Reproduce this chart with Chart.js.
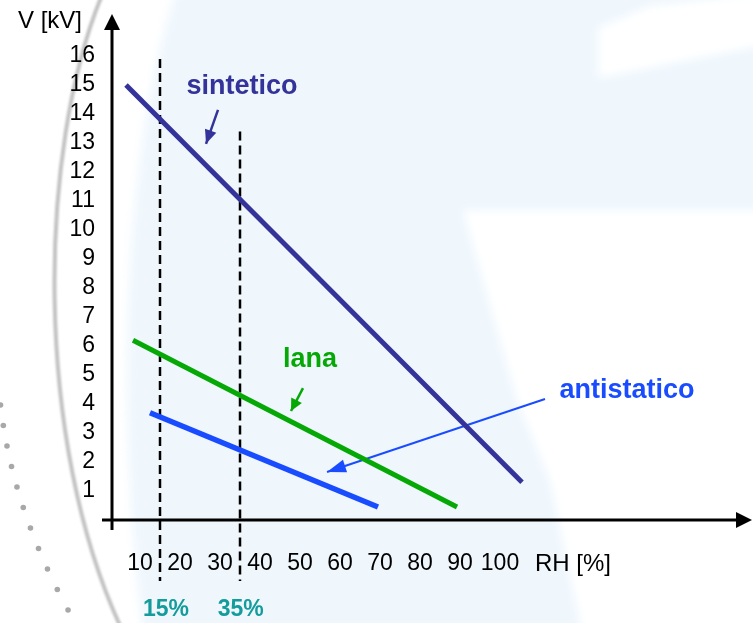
<!DOCTYPE html>
<html><head><meta charset="utf-8">
<script src="https://cdn.jsdelivr.net/npm/chart.js@4.4.1/dist/chart.umd.min.js"></script>
<style>html,body{margin:0;padding:0;background:#fff;}canvas{display:block;}</style>
</head><body>
<canvas id="c" width="753" height="623"></canvas>
<script>
// ---- data ----
const xTicks = [10, 20, 30, 40, 50, 60, 70, 80, 90, 100];
const yTicks = [1, 2, 3, 4, 5, 6, 7, 8, 9, 10, 11, 12, 13, 14, 15, 16];
const sinteticoRH = [6.5, 105.5];
const sinteticoV = [15.0, 1.3];
const lanaRH = [8.25, 89.25];
const lanaV = [6.2, 0.45];
const antistaticoRH = [12.5, 69.5];
const antistaticoV = [3.7, 0.45];
const guideRH = [15, 35];
const guideTopV = [15.9, 13.4];
const guideBottomV = -2.1;
const arrowSinteticoRH = [29.5, 26.5];
const arrowSinteticoV = [14.14, 12.97];
const arrowLanaRH = [50.75, 47.75];
const arrowLanaV = [4.55, 3.76];
const arrowAntiRH = [111.25, 56.75];
const arrowAntiV = [4.17, 1.655];

const NAVY = '#333399', GREEN = '#06a806', BLUE = '#1a4cff', TEAL = '#149c9c';
const FONT = '"Liberation Sans", Arial, Helvetica, sans-serif';

const pts = (xs, ys) => xs.map((x, i) => ({x: x, y: ys[i]}));

const labels = [
  {text: 'sintetico', rh: 35.5, v: 14.93, color: NAVY, size: 27},
  {text: 'lana', rh: 52.5, v: 5.52, color: GREEN, size: 27},
  {text: 'antistatico', rh: 131.75, v: 4.48, color: BLUE, size: 27},
  {text: '15%', rh: 16.5, v: -3.1, color: TEAL, size: 23},
  {text: '35%', rh: 35.2, v: -3.1, color: TEAL, size: 23}
];

const background = {
  id: 'background',
  beforeDraw(chart) {
    const ctx = chart.ctx, w = chart.width, h = chart.height;
    ctx.save();
    ctx.fillStyle = '#ffffff';
    ctx.fillRect(0, 0, w, h);
    ctx.filter = 'blur(5px)';
    ctx.fillStyle = '#eff7fd';
    ctx.beginPath();
    ctx.moveTo(180, -20);
    ctx.bezierCurveTo(120, 150, 115, 420, 145, 650);
    ctx.lineTo(790, 650); ctx.lineTo(790, -20); ctx.closePath();
    ctx.fill();
    ctx.fillStyle = '#ffffff';
    ctx.beginPath();
    ctx.moveTo(463, 210); ctx.lineTo(790, 210); ctx.lineTo(790, 660);
    ctx.lineTo(588, 660); ctx.lineTo(550, 480); ctx.lineTo(517, 400); ctx.closePath();
    ctx.fill();
    ctx.beginPath();
    ctx.moveTo(598, 28); ctx.lineTo(650, 6); ctx.lineTo(790, -10); ctx.lineTo(790, 40);
    ctx.lineTo(598, 78); ctx.closePath();
    ctx.fill();
    ctx.filter = 'blur(1px)';
    ctx.strokeStyle = '#c2c2c2';
    ctx.lineWidth = 4;
    ctx.beginPath();
    ctx.moveTo(102, -5);
    ctx.bezierCurveTo(38, 150, 33, 440, 122, 630);
    ctx.stroke();
    ctx.filter = 'none';
    ctx.fillStyle = '#a8a8a8';
    for (let y = 405; y <= 630; y += 20.5) {
      const d = y - 400;
      const x = 0.00105 * d * d + 0.1035 * d;
      ctx.beginPath(); ctx.arc(x, y, 2.8, 0, Math.PI * 2); ctx.fill();
    }
    ctx.restore();
  }
};

function arrowHead(ctx, from, to, len, half, color) {
  const a = Math.atan2(to.y - from.y, to.x - from.x);
  ctx.save();
  ctx.fillStyle = color;
  ctx.translate(to.x, to.y);
  ctx.rotate(a);
  ctx.beginPath();
  ctx.moveTo(0, 0); ctx.lineTo(-len, -half); ctx.lineTo(-len, half); ctx.closePath();
  ctx.fill();
  ctx.restore();
}

const decor = {
  id: 'decor',
  beforeDatasetsDraw(chart) {
    const ctx = chart.ctx, a = chart.chartArea;
    ctx.save();
    ctx.strokeStyle = '#000'; ctx.fillStyle = '#000';
    ctx.lineWidth = 3;
    ctx.beginPath();
    ctx.moveTo(a.left - 10, a.bottom); ctx.lineTo(a.right - 10, a.bottom);
    ctx.moveTo(a.left, a.bottom + 10); ctx.lineTo(a.left, a.top + 12);
    ctx.stroke();
    ctx.beginPath();
    ctx.moveTo(a.right + 2, a.bottom); ctx.lineTo(a.right - 14, a.bottom - 8); ctx.lineTo(a.right - 14, a.bottom + 8); ctx.closePath();
    ctx.fill();
    ctx.beginPath();
    ctx.moveTo(a.left, a.top); ctx.lineTo(a.left - 8, a.top + 16); ctx.lineTo(a.left + 8, a.top + 16); ctx.closePath();
    ctx.fill();
    ctx.font = '24px ' + FONT;
    ctx.textBaseline = 'middle';
    ctx.textAlign = 'left';
    ctx.fillText('V [kV]', 18, 21);
    const xs = chart.scales.x;
    ctx.fillText('RH [%]', xs.getPixelForValue(100) + 35, 564);
    ctx.restore();
  },
  afterDatasetsDraw(chart) {
    const ctx = chart.ctx, xs = chart.scales.x, ys = chart.scales.y;
    const heads = [[4, 14, 6, NAVY], [5, 12, 6, GREEN], [6, 19, 6.5, BLUE]];
    heads.forEach(([i, len, half, color]) => {
      const m = chart.getDatasetMeta(i).data;
      arrowHead(ctx, m[0], m[1], len, half, color);
    });
    ctx.save();
    ctx.textAlign = 'center';
    ctx.textBaseline = 'middle';
    labels.forEach(l => {
      ctx.font = 'bold ' + l.size + 'px ' + FONT;
      ctx.fillStyle = l.color;
      ctx.fillText(l.text, xs.getPixelForValue(l.rh), ys.getPixelForValue(l.v));
    });
    ctx.restore();
  }
};

new Chart(document.getElementById('c'), {
  type: 'line',
  data: {
    datasets: [
      {label: 'sintetico', data: pts(sinteticoRH, sinteticoV), borderColor: NAVY, borderWidth: 5},
      {label: 'lana', data: pts(lanaRH, lanaV), borderColor: GREEN, borderWidth: 5},
      {label: 'antistatico', data: pts(antistaticoRH, antistaticoV), borderColor: BLUE, borderWidth: 5.5},
      {label: '15%', data: [{x: guideRH[0], y: guideTopV[0]}, {x: guideRH[0], y: guideBottomV}], borderColor: '#000', borderWidth: 2.5, borderDash: [9, 5]},
      {label: 'arrow sintetico', data: pts(arrowSinteticoRH, arrowSinteticoV), borderColor: NAVY, borderWidth: 2.5},
      {label: 'arrow lana', data: pts(arrowLanaRH, arrowLanaV), borderColor: GREEN, borderWidth: 2.5},
      {label: 'arrow antistatico', data: pts(arrowAntiRH, arrowAntiV), borderColor: BLUE, borderWidth: 2},
      {label: '35%', data: [{x: guideRH[1], y: guideTopV[1]}, {x: guideRH[1], y: guideBottomV}], borderColor: '#000', borderWidth: 2.5, borderDash: [9, 5]}
    ].map(d => Object.assign({pointRadius: 0, borderCapStyle: 'butt', fill: false, tension: 0, clip: false}, d))
  },
  options: {
    responsive: false,
    animation: false,
    events: [],
    layout: {padding: {left: 0, top: 14, right: 3, bottom: 0}},
    plugins: {legend: {display: false}, tooltip: {enabled: false}, title: {display: false}},
    scales: {
      x: {
        type: 'linear', min: 3, max: 162.5,
        grid: {display: false, drawTicks: false}, border: {display: false},
        afterBuildTicks: s => { s.ticks = xTicks.map(v => ({value: v})); },
        afterFit: s => { s.height = 103; s.paddingLeft = 0; s.paddingRight = 0; },
        ticks: {autoSkip: false, maxRotation: 0, color: '#000', padding: 30, font: {family: FONT, size: 23}}
      },
      y: {
        type: 'linear', min: 0, max: 17.448,
        grid: {display: false, drawTicks: false}, border: {display: false},
        afterBuildTicks: s => { s.ticks = yTicks.map(v => ({value: v})); },
        afterFit: s => { s.width = 112; s.paddingTop = 0; s.paddingBottom = 0; },
        ticks: {autoSkip: false, color: '#000', padding: 17, font: {family: FONT, size: 23}}
      }
    }
  },
  plugins: [background, decor]
});
</script>
</body></html>
